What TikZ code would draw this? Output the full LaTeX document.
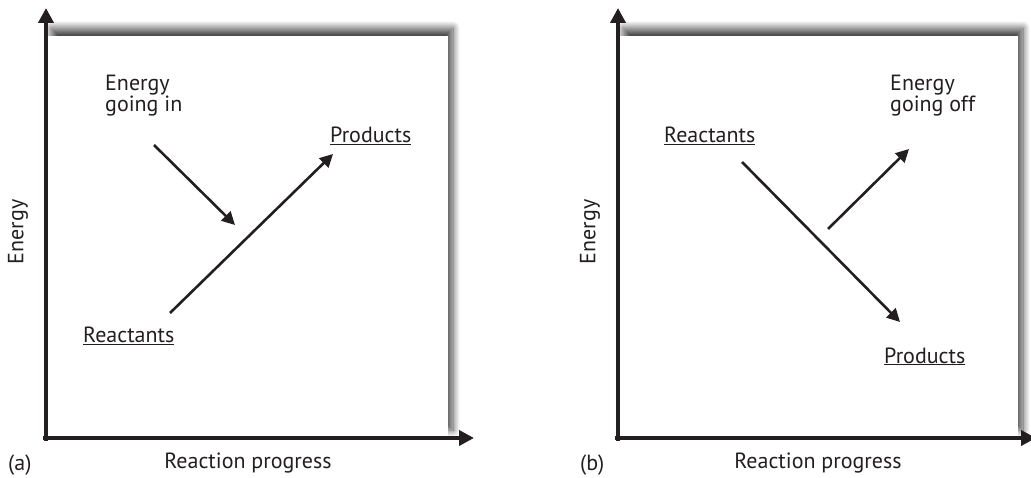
\documentclass[tikz,border=0pt]{standalone}
\usepackage{fontspec}
\setmainfont{PT Sans}
\usetikzlibrary{arrows.meta,shadows.blur}
\definecolor{ink}{HTML}{231F20}
\tikzset{
  panel/.style={fill=white, draw=none, blur shadow={shadow xshift=5pt, shadow yshift=8pt, shadow blur steps=14, shadow blur radius=7pt, shadow opacity=70}},
  axis/.style={ink, line width=4.5pt, -{Triangle[length=15pt,width=15pt]}},
  flow/.style={ink, line width=2.6pt, -{Triangle[length=13pt,width=13pt]}},
  lbl/.style={font=\fontsize{22}{21.5}\selectfont, text=ink, inner sep=0pt, align=left},
}
\begin{document}
\begin{tikzpicture}[x=1pt,y=-1pt]
\useasboundingbox (0,0) rectangle (1031,478);
% panel (a)
\path[panel] (46,36) rectangle (448,438);
\draw[axis] (46,441) -- (46,8);
\draw[axis] (43,438) -- (474,438);
\node[lbl, rotate=90] (ya) at (18,232) {Energy};
\node[lbl, anchor=base west] (la) at (8,470) {(a)};
\node[lbl, anchor=base] (xa) at (248,468) {Reaction progress};
\node[lbl, anchor=base west] (eina) at (105,112) {Energy\\going in};
\node[lbl, anchor=base west] (proa) at (330,143) {\underline{Products}};
\node[lbl, anchor=base west] (reaa) at (83,343) {\underline{Reactants}};
\coordinate (ea1) at (154,145);
\coordinate (ea2) at (235,225);
\coordinate (ra1) at (170,313);
\coordinate (ra2) at (333,154);
\draw[flow] (ea1) -- (ea2);
\draw[flow] (ra1) -- (ra2);
% panel (b)
\path[panel] (618,36) rectangle (1018,438);
\draw[axis] (618,441) -- (618,8);
\draw[axis] (615,438) -- (1036,438);
\node[lbl, rotate=90] (yb) at (590,232) {Energy};
\node[lbl, anchor=base west] (lb) at (580,470) {(b)};
\node[lbl, anchor=base] (xb) at (818,468) {Reaction progress};
\node[lbl, anchor=base west] (reab) at (664,143) {\underline{Reactants}};
\node[lbl, anchor=base west] (eoffb) at (890,112) {Energy\\going off};
\node[lbl, anchor=base west] (prob) at (884,363) {\underline{Products}};
\coordinate (rb1) at (742,162);
\coordinate (rb2) at (900,322);
\coordinate (eb1) at (828,229);
\coordinate (eb2) at (909,149);
\draw[flow] (rb1) -- (rb2);
\draw[flow] (eb1) -- (eb2);
\end{tikzpicture}
\end{document}
